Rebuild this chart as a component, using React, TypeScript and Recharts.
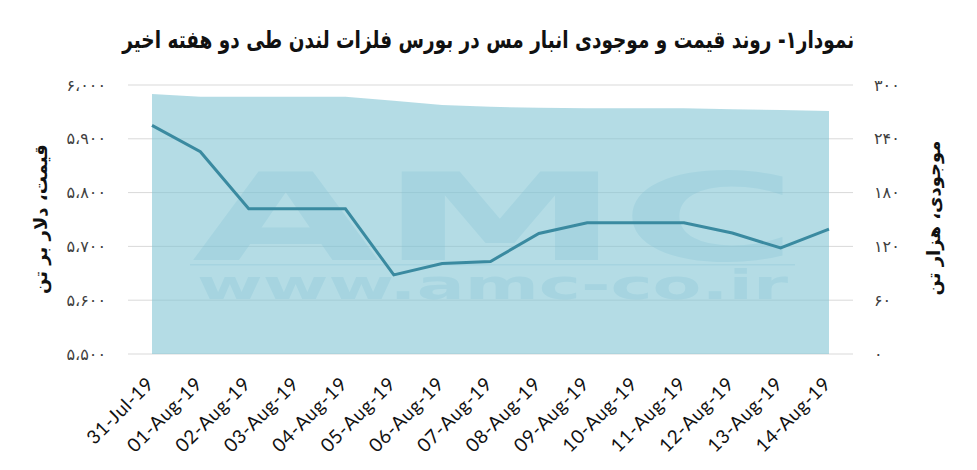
import React from "react";
import { Area, CartesianGrid, ComposedChart, Customized, Line, XAxis, YAxis } from "recharts";

const DATES = [
  "31-Jul-19",
  "01-Aug-19",
  "02-Aug-19",
  "03-Aug-19",
  "04-Aug-19",
  "05-Aug-19",
  "06-Aug-19",
  "07-Aug-19",
  "08-Aug-19",
  "09-Aug-19",
  "10-Aug-19",
  "11-Aug-19",
  "12-Aug-19",
  "13-Aug-19",
  "14-Aug-19",
];
// price, $/t (left axis)
const PRICE = [5925, 5876, 5770, 5770, 5770, 5647, 5668, 5672, 5724, 5744, 5744, 5744, 5725, 5697, 5732];
// stock, thousand t (right axis)
const STOCK = [290, 287, 287, 287, 287, 282.5, 277.7, 275.7, 274.6, 274, 274, 274, 273, 272, 271];
const PRICE_TICKS = [5500, 5600, 5700, 5800, 5900, 6000];
const STOCK_TICKS = [0, 60, 120, 180, 240, 300];

const TITLE = "نمودار۱- روند قیمت و موجودی انبار مس در بورس فلزات لندن طی دو هفته اخیر";
const LEFT_TITLE = "قیمت، دلار بر تن";
const RIGHT_TITLE = "موجودی، هزار تن";

const data = DATES.map((d, i) => ({ date: d, price: PRICE[i], stock: STOCK[i] }));

const FA = "۰۱۲۳۴۵۶۷۸۹";
const fa = (n: number) =>
  n
    .toLocaleString("en-US")
    .replace(/\d/g, (c) => FA[Number(c)])
    .replace(/,/g, "،");

const PERSIAN = '"DejaVu Sans", sans-serif';
const AXIS_TICK = { fontSize: 16, fill: "#404040", fontFamily: PERSIAN } as const;

function DateTick({ x, y, payload }: any) {
  const tx = x + 3;
  const ty = y + 23;
  return (
    <text
      x={tx}
      y={ty}
      transform={`rotate(-45 ${tx} ${ty})`}
      textAnchor="end"
      fontSize={19}
      letterSpacing={0.6}
      fontFamily="Lato, sans-serif"
      fill="#111"
    >
      {payload.value}
    </text>
  );
}

/* faint site watermark sitting on the area */
function Watermark() {
  return (
    <g fill="#6fb3cf" fillOpacity={0.25}>
      <rect x={190} y={264} width={605} height={1.5} />
      <text fontFamily={PERSIAN} fontWeight="bold">
        <tspan x={192} y={260} fontSize={122} textLength={606} lengthAdjust="spacingAndGlyphs">
          AMC
        </tspan>
        <tspan x={197} y={299} fontSize={40} textLength={591} lengthAdjust="spacingAndGlyphs">
          www.amc-co.ir
        </tspan>
      </text>
    </g>
  );
}

const sideTitle = {
  position: "absolute",
  transform: "translate(-50%, -50%) rotate(-90deg)",
  whiteSpace: "nowrap",
  direction: "rtl",
  fontFamily: PERSIAN,
  fontWeight: "bold",
  fontSize: 18,
  color: "#111",
} as const;

export default function App() {
  return (
    <div style={{ position: "relative", width: 977, height: 470, margin: -8, background: "#fff" }}>
      <ComposedChart width={977} height={470} data={data} margin={{ top: 85, right: 64, left: 68, bottom: 0 }}>
        <CartesianGrid yAxisId="p" stroke="#d9d9d9" vertical={false} />
        <XAxis
          dataKey="date"
          tick={<DateTick />}
          tickLine={false}
          axisLine={false}
          height={116}
          interval={0}
          padding={{ left: 24, right: 24 }}
        />
        <YAxis
          yAxisId="p"
          domain={[5500, 6000]}
          ticks={PRICE_TICKS}
          tickFormatter={(v) => fa(Number(v))}
          tick={AXIS_TICK}
          tickLine={false}
          axisLine={false}
          tickMargin={16}
          width={60}
        />
        <YAxis
          yAxisId="s"
          orientation="right"
          domain={[0, 300]}
          ticks={STOCK_TICKS}
          tickFormatter={(v) => fa(Number(v))}
          tick={{ ...AXIS_TICK, textAnchor: "start" }}
          tickLine={false}
          axisLine={false}
          tickMargin={15}
          width={60}
        />
        <Area
          yAxisId="s"
          dataKey="stock"
          type="linear"
          stroke="none"
          fill="#82c5d4"
          fillOpacity={0.6}
          isAnimationActive={false}
        />
        <Customized component={Watermark} />
        <Line
          yAxisId="p"
          dataKey="price"
          type="linear"
          stroke="#3a8aa0"
          strokeWidth={3}
          dot={false}
          isAnimationActive={false}
        />
      </ComposedChart>
      <div style={{ position: "absolute", left: 0, top: 26, width: 977, textAlign: "center" }}>
        <span
          style={{
            display: "inline-block",
            transform: "scaleX(0.77)",
            whiteSpace: "nowrap",
            direction: "rtl",
            fontFamily: PERSIAN,
            fontWeight: "bold",
            fontSize: 24,
            color: "#111",
          }}
        >
          {TITLE}
        </span>
      </div>
      <div style={{ ...sideTitle, left: 40, top: 219 }}>{LEFT_TITLE}</div>
      <div style={{ ...sideTitle, left: 933, top: 218 }}>{RIGHT_TITLE}</div>
      <div
        style={{
          position: "absolute",
          inset: 0,
          border: "3px solid #9ccfe0",
          pointerEvents: "none",
        }}
      />
    </div>
  );
}
